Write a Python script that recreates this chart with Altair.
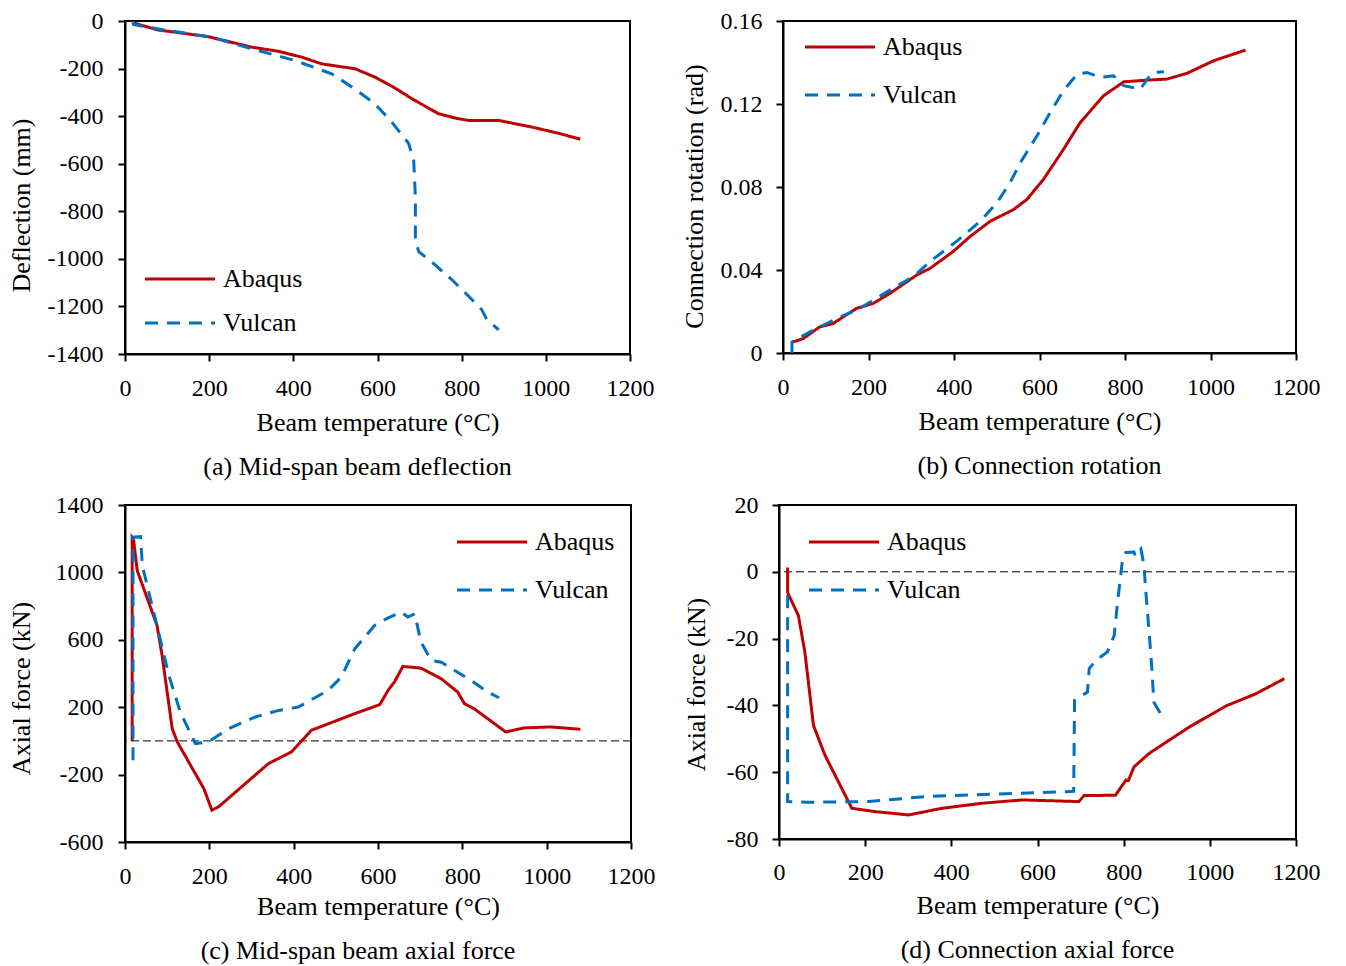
import altair as alt
import pandas as pd

FONT = "Liberation Serif"
RED = "#C00000"
BLUE = "#0070C0"
SERIES = ["Abaqus", "Vulcan"]

# ---------------- (a) Mid-span beam deflection ----------------
a_abaqus_T = [20, 79, 140, 198, 250, 301, 364, 420, 467, 547, 594, 640, 682, 745, 790, 817, 888, 967, 1030, 1082]
a_abaqus_D = [-8, -38, -52, -66, -88, -110, -127, -152, -180, -201, -236, -280, -327, -390, -410, -418, -418, -446, -472, -497]
a_vulcan_T = [19, 20, 102, 206, 301, 404, 491, 539, 594, 634, 674, 686, 690, 690, 698, 737, 777, 817, 848, 860, 888]
a_vulcan_D = [0, -15, -40, -68, -117, -166, -222, -277, -348, -425, -515, -585, -739, -921, -970, -1025, -1088, -1158, -1214, -1256, -1298]

# ---------------- (b) Connection rotation ----------------
b_abaqus_T = [23, 47, 86, 117, 172, 211, 250, 313, 344, 398, 438, 484, 539, 570, 609, 656, 695, 750, 797, 852, 898, 945, 1008, 1082]
b_abaqus_R = [0.0053, 0.0069, 0.0126, 0.0142, 0.0215, 0.0239, 0.0287, 0.0376, 0.0408, 0.0489, 0.0562, 0.0634, 0.0691, 0.0739, 0.0836, 0.0981, 0.1110, 0.1240, 0.1307, 0.1315, 0.1320, 0.1348, 0.1409, 0.1460]
b_vulcan_T = [21, 21, 63, 125, 180, 250, 305, 344, 406, 461, 500, 531, 555, 594, 625, 656, 688, 711, 742, 773, 797, 836, 852, 867, 891]
b_vulcan_R = [0.0, 0.0053, 0.0102, 0.0166, 0.0215, 0.0303, 0.0368, 0.0441, 0.0538, 0.0634, 0.0723, 0.0820, 0.0917, 0.1046, 0.1159, 0.1264, 0.1344, 0.1352, 0.1328, 0.1336, 0.1288, 0.1272, 0.1320, 0.1352, 0.1355]

# ---------------- (c) Mid-span beam axial force ----------------
c_abaqus_T = [17, 17, 20, 29, 76, 88, 112, 124, 187, 206, 222, 340, 395, 442, 545, 604, 624, 639, 659, 702, 750, 789, 805, 828, 860, 903, 946, 1009, 1080]
c_abaqus_F = [0, 1209, 1200, 1011, 685, 507, 73, -6, -283, -411, -391, -135, -65, 63, 162, 215, 300, 350, 442, 432, 369, 290, 221, 191, 132, 53, 77, 83, 69]
c_vulcan_T = [19, 19, 37, 41, 72, 104, 131, 167, 198, 246, 309, 364, 411, 482, 513, 545, 592, 624, 655, 671, 687, 702, 726, 750, 781, 821, 860, 887]
c_vulcan_F = [-115, 1209, 1212, 1041, 725, 389, 172, -16, -6, 73, 142, 181, 201, 300, 379, 547, 685, 730, 764, 735, 754, 587, 478, 467, 419, 359, 290, 256]

# ---------------- (d) Connection axial force ----------------
d_abaqus_T = [20, 20, 45, 60, 80, 107, 138, 169, 223, 301, 378, 471, 564, 696, 708, 781, 805, 811, 824, 859, 894, 952, 1037, 1107, 1173]
d_abaqus_A = [1.3, -6.2, -13.1, -24.0, -46.0, -55.0, -62.9, -70.8, -71.8, -72.8, -70.8, -69.3, -68.3, -68.8, -67.0, -66.9, -62.4, -62.5, -58.4, -54.4, -51.4, -46.5, -40.2, -36.5, -32.0]
d_vulcan_T = [20, 20, 68, 208, 340, 495, 650, 684, 686, 716, 720, 735, 762, 778, 785, 797, 805, 824, 827, 840, 847, 851, 859, 865, 870, 890]
d_vulcan_A = [-7.0, -68.8, -69.0, -68.8, -67.3, -66.6, -65.9, -65.7, -38.5, -36.0, -29.0, -26.6, -24.0, -19.1, -10.1, 3.3, 5.8, 5.9, 4.7, 6.8, 2.2, -5.2, -18.0, -28.0, -39.0, -43.5]

X_TICKS = [0, 200, 400, 600, 800, 1000, 1200]


def long_df(t1, v1, t2, v2):
    rows = []
    for i, (t, v) in enumerate(zip(t1, v1)):
        rows.append({"T": t, "V": v, "series": "Abaqus", "order": i})
    for i, (t, v) in enumerate(zip(t2, v2)):
        rows.append({"T": t, "V": v, "series": "Vulcan", "order": i})
    return pd.DataFrame(rows)


def panel(df, ydomain, yvalues, ytitle, ylabelexpr, width, height,
          legx, legy, rowpad, caption, capdx, capoffset,
          ytitlex, ytitley, ylabpad, xlabpad, xtitlepad, zero=False):
    legend = alt.Legend(
        title=None, orient="none", legendX=legx, legendY=legy,
        symbolType="M-5,0H5", symbolSize=196, symbolStrokeWidth=3,
        labelFont=FONT, labelFontSize=26, labelColor="black",
        labelOffset=30, rowPadding=rowpad, padding=0,
    )
    xaxis = alt.Axis(
        values=X_TICKS, title="Beam temperature (°C)", labelFlush=False,
        labelOverlap=False, grid=False, tickSize=7, labelPadding=xlabpad,
        titlePadding=xtitlepad, labelExpr="'' + datum.value",
    )
    yaxis = alt.Axis(
        values=yvalues, title=ytitle, grid=False, tickSize=7,
        labelPadding=ylabpad, labelOverlap=False, labelExpr=ylabelexpr,
        titleX=ytitlex, titleY=ytitley,
    )
    lines = alt.Chart(df).mark_line(strokeWidth=3, clip=True).encode(
        x=alt.X("T:Q", scale=alt.Scale(domain=[0, 1200], nice=False, zero=False), axis=xaxis),
        y=alt.Y("V:Q", scale=alt.Scale(domain=ydomain, nice=False, zero=False), axis=yaxis),
        color=alt.Color("series:N", scale=alt.Scale(domain=SERIES, range=[RED, BLUE]), legend=legend),
        strokeDash=alt.StrokeDash("series:N", scale=alt.Scale(domain=SERIES, range=[[1, 0], [13, 9]]), legend=legend),
        order="order:Q",
    )
    layers = [lines]
    if zero:
        zdf = pd.DataFrame({"V": [0]})
        rule = alt.Chart(zdf).mark_rule(color="black", strokeWidth=1, strokeDash=[8, 4]).encode(
            y=alt.Y("V:Q")
        )
        layers = [rule, lines]
    ch = alt.layer(*layers).properties(
        width=width, height=height,
        title=alt.TitleParams(
            text=caption, orient="bottom", anchor="middle", frame="group",
            dx=capdx, offset=capoffset, font=FONT, fontSize=26,
            fontWeight="normal", color="black",
        ),
    )
    return ch


ca = panel(long_df(a_abaqus_T, a_abaqus_D, a_vulcan_T, a_vulcan_D),
           [-1400, 0], list(range(-1400, 1, 200)), "Deflection (mm)", "'' + datum.value",
           505, 333, 42, 245, 18, "(a) Mid-span beam deflection", -20, 19,
           -91, 184, 15, 15, 9)
cb = panel(long_df(b_abaqus_T, b_abaqus_R, b_vulcan_T, b_vulcan_R),
           [0, 0.16], [0, 0.04, 0.08, 0.12, 0.16], "Connection rotation (rad)",
           "datum.value == 0 ? '0' : format(datum.value, '.2f')",
           513, 332, 44, 13, 22, "(b) Connection rotation", 0, 19,
           -76, 175, 14, 15, 9)
cc = panel(long_df(c_abaqus_T, c_abaqus_F, c_vulcan_T, c_vulcan_F),
           [-600, 1400], [-600, -200, 200, 600, 1000, 1400], "Axial force (kN)", "'' + datum.value",
           506, 337, 354, 24, 22, "(c) Mid-span beam axial force", -20, 19,
           -91, 183, 15, 15, 5, zero=True)
cd = panel(long_df(d_abaqus_T, d_abaqus_A, d_vulcan_T, d_vulcan_A),
           [-80, 20], [-80, -60, -40, -20, 0, 20], "Axial force (kN)", "'' + datum.value",
           517, 334, 52, 24, 22, "(d) Connection axial force", 0, 19,
           -70, 179, 14, 14, 8, zero=True)

row1 = alt.hconcat(ca, cb, spacing=25).resolve_scale(color="independent", strokeDash="independent")
row2 = alt.hconcat(cc, cd, spacing=26).resolve_scale(color="independent", strokeDash="independent")
chart = alt.vconcat(row1, row2, spacing=11).resolve_scale(color="independent", strokeDash="independent")

chart = chart.configure(
    font=FONT, padding={"left": 7, "top": 8, "right": 5, "bottom": 5}, background="white"
).configure_view(
    stroke="black", strokeWidth=2
).configure_axis(
    domainColor="black", domainWidth=2, tickColor="black", tickWidth=2,
    labelFont=FONT, labelFontSize=24, labelColor="black",
    titleFont=FONT, titleFontSize=26, titleFontWeight="normal", titleColor="black",
)

chart.save("out.html", embed_options={"renderer": "svg", "actions": False})
